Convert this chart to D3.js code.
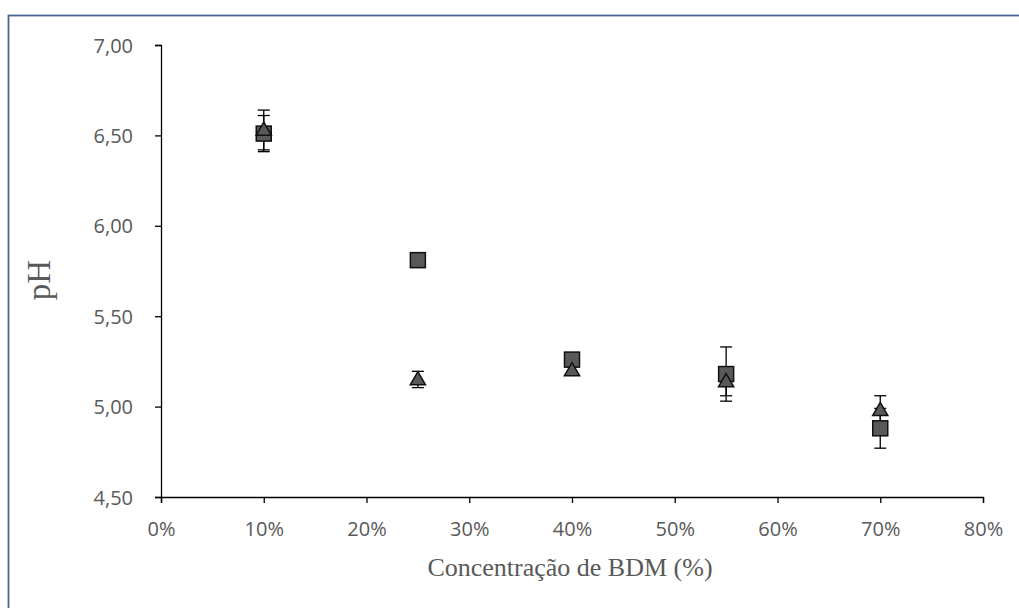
<!DOCTYPE html>
<html>
<head>
<meta charset="utf-8">
<script src="https://cdn.jsdelivr.net/npm/d3@7"></script>
<style>
  body { margin: 0; background: #fff; }
  svg { display: block; }
</style>
</head>
<body>
<div id="chart"></div>
<script>
// concentrations (x) and the two pH series
const concentrations = [0.10, 0.25, 0.40, 0.55, 0.70];
const squareValues = [6.51, 5.81, 5.26, 5.18, 4.88];
const squareErrors = [0.10, 0.04, 0.02, 0.15, 0.11];
const triangleValues = [6.53, 5.15, 5.20, 5.14, 4.98];
const triangleErrors = [0.11, 0.045, 0.02, 0.08, 0.08];
const xTicks = [0, 0.1, 0.2, 0.3, 0.4, 0.5, 0.6, 0.7, 0.8];
const yTicks = [4.5, 5.0, 5.5, 6.0, 6.5, 7.0];

const width = 1019, height = 608;
const svg = d3.select("#chart").append("svg")
  .attr("width", width)
  .attr("height", height);

// chart frame
svg.append("rect")
  .attr("x", 8.5).attr("y", 15.5)
  .attr("width", 1020).attr("height", 600)
  .attr("fill", "none")
  .attr("stroke", "#4A6494")
  .attr("stroke-width", 1.8);

const x = d3.scaleLinear().domain([0, 0.8]).range([161, 983]);
const y = d3.scaleLinear().domain([4.5, 7.0]).range([497, 45]);

const comma = d3.formatLocale({decimal: ",", thousands: ".", grouping: [3], currency: ["", ""]});

// axes
const xAxis = svg.append("g")
  .attr("transform", `translate(0,${y(4.5)})`)
  .call(d3.axisBottom(x).tickValues(xTicks).tickSize(6).tickPadding(19)
    .tickFormat(d => Math.round(d * 100) + "%"));
const yAxis = svg.append("g")
  .attr("transform", `translate(${x(0)},0)`)
  .call(d3.axisLeft(y).tickValues(yTicks).tickSize(6).tickPadding(22)
    .tickFormat(comma.format(".2f")));

[xAxis, yAxis].forEach(g => {
  g.attr("font-size", null);
  g.select(".domain").attr("stroke", "#000").attr("stroke-width", 1.3);
  g.selectAll(".tick line").attr("stroke", "#000").attr("stroke-width", 1.3);
  g.selectAll(".tick text")
    .attr("fill", "#595959")
    .style("font-family", "'Open Sans', 'Liberation Sans', sans-serif")
    .style("font-size", "20px");
});
yAxis.selectAll(".tick text").attr("dy", "0.35em");

// axis titles
svg.append("text")
  .attr("x", 570).attr("y", 576)
  .attr("text-anchor", "middle")
  .attr("fill", "#595959")
  .style("font-family", "'Liberation Serif', serif")
  .style("font-size", "26px")
  .text("Concentração de BDM (%)");

svg.append("text")
  .attr("transform", "translate(50,280) rotate(-90)")
  .attr("text-anchor", "middle")
  .attr("fill", "#595959")
  .style("font-family", "'Liberation Serif', serif")
  .style("font-size", "33px")
  .text("pH");

// error bars then markers
function drawErrors(vals, errs) {
  const g = svg.append("g").attr("stroke", "#000").attr("stroke-width", 1.3);
  concentrations.forEach((c, i) => {
    const cx = x(c), lo = y(vals[i] - errs[i]), hi = y(vals[i] + errs[i]);
    g.append("line").attr("x1", cx).attr("x2", cx).attr("y1", lo).attr("y2", hi);
    g.append("line").attr("x1", cx - 6).attr("x2", cx + 6).attr("y1", lo).attr("y2", lo);
    g.append("line").attr("x1", cx - 6).attr("x2", cx + 6).attr("y1", hi).attr("y2", hi);
  });
}
drawErrors(squareValues, squareErrors);
drawErrors(triangleValues, triangleErrors);

svg.append("g").selectAll("rect")
  .data(concentrations)
  .join("rect")
  .attr("x", d => x(d) - 7.5)
  .attr("y", (d, i) => y(squareValues[i]) - 7.5)
  .attr("width", 15).attr("height", 15)
  .attr("fill", "#595959")
  .attr("stroke", "#111")
  .attr("stroke-width", 1.5);

const tri = d3.symbol().type(d3.symbolTriangle).size(100);
svg.append("g").selectAll("path")
  .data(concentrations)
  .join("path")
  .attr("transform", (d, i) => `translate(${x(d)},${y(triangleValues[i]) + 1})`)
  .attr("d", tri)
  .attr("fill", "#595959")
  .attr("stroke", "#111")
  .attr("stroke-width", 1.5);
</script>
</body>
</html>
